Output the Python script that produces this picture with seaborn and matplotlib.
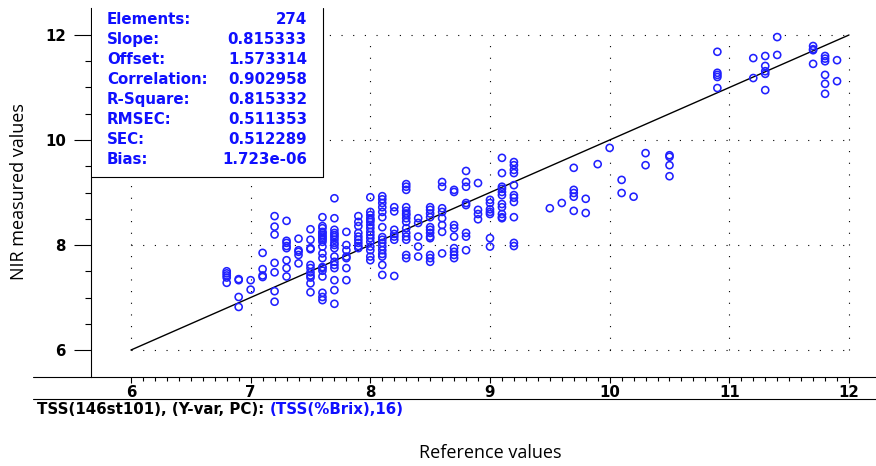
import matplotlib
matplotlib.use("Agg")
import matplotlib.pyplot as plt
import seaborn as sns
import pandas as pd
import numpy as np
from matplotlib.lines import Line2D
from matplotlib.patches import Rectangle
from matplotlib.ticker import FixedLocator

# ---------------- data ----------------
reference = (
    [6.8] * 5 + [6.9] * 4 + [7.0] * 2 + [7.1] * 4 + [7.2] * 7 + [7.3] * 8 + [7.4] * 5 +
    [7.5] * 11 + [7.6] * 20 + [7.7] * 17 + [7.8] * 7 + [7.9] * 9 + [8.0] * 16 + [8.1] * 16 +
    [8.2] * 7 + [8.3] * 15 + [8.4] * 5 + [8.5] * 12 + [8.6] * 8 + [8.7] * 9 + [8.8] * 8 +
    [8.9] * 4 + [9.0] * 7 + [9.1] * 11 + [9.2] * 11 + [9.5] * 1 + [9.6] * 1 + [9.7] * 5 +
    [9.8] * 2 + [9.9] * 1 + [10.0] * 1 + [10.1] * 2 + [10.2] * 1 + [10.3] * 2 + [10.5] * 4 +
    [10.9] * 5 + [11.2] * 2 + [11.3] * 5 + [11.4] * 2 + [11.7] * 4 + [11.8] * 6 + [11.9] * 2
)
measured = [
    7.50, 7.46, 7.42, 7.38, 7.28,
    7.35, 7.33, 7.01, 6.82,
    7.33, 7.15,
    7.85, 7.54, 7.42, 7.39,
    8.55, 8.35, 8.20, 7.66, 7.48, 7.12, 6.92,
    8.46, 8.08, 8.04, 7.98, 7.94, 7.71, 7.56, 7.40,
    8.12, 7.90, 7.87, 7.81, 7.65,
    8.30, 8.10, 7.94, 7.92, 7.62, 7.56, 7.48, 7.42, 7.38, 7.27, 7.10,
    8.53, 8.36, 8.32, 8.25, 8.23, 8.19, 8.16, 8.13, 8.10, 8.06, 7.97, 7.84, 7.75, 7.58, 7.56,
    7.51, 7.40, 7.09, 7.01, 6.95,
    8.89, 8.51, 8.29, 8.23, 8.19, 8.15, 8.10, 8.04, 8.00, 7.94, 7.78, 7.68, 7.62, 7.56, 7.33,
    7.14, 6.88,
    8.25, 8.00, 7.90, 7.78, 7.75, 7.56, 7.33,
    8.55, 8.44, 8.36, 8.23, 8.16, 8.10, 8.04, 7.98, 7.94,
    8.91, 8.63, 8.57, 8.51, 8.48, 8.44, 8.38, 8.32, 8.25, 8.19, 8.13, 8.06, 7.97, 7.90, 7.78, 7.71,
    8.93, 8.87, 8.80, 8.72, 8.63, 8.53, 8.34, 8.15, 8.10, 8.04, 7.97, 7.90, 7.83, 7.78, 7.62, 7.43,
    8.72, 8.64, 8.29, 8.21, 8.16, 8.10, 7.41,
    9.16, 9.11, 9.05, 8.72, 8.65, 8.60, 8.57, 8.51, 8.44, 8.32, 8.23, 8.16, 8.10, 7.81, 7.75,
    8.51, 8.42, 8.16, 7.97, 7.78,
    8.72, 8.67, 8.60, 8.53, 8.34, 8.29, 8.23, 8.16, 8.13, 7.81, 7.75, 7.68,
    9.20, 9.11, 8.70, 8.63, 8.51, 8.38, 8.25, 7.84,
    9.05, 9.01, 8.38, 8.32, 8.16, 7.94, 7.87, 7.81, 7.75,
    9.41, 9.20, 9.11, 8.80, 8.76, 8.23, 8.16, 7.90,
    9.18, 8.67, 8.59, 8.49,
    8.86, 8.80, 8.68, 8.63, 8.59, 8.13, 7.97,
    9.66, 9.37, 9.11, 9.07, 9.01, 8.95, 8.78, 8.72, 8.59, 8.53, 8.51,
    9.58, 9.52, 9.43, 9.37, 9.14, 8.95, 8.90, 8.82, 8.53, 8.04, 7.98,
    8.70,
    8.80,
    9.47, 9.05, 8.99, 8.92, 8.65,
    8.88, 8.61,
    9.54,
    9.85,
    9.24, 8.99,
    8.92,
    9.75, 9.52,
    9.71, 9.68, 9.52, 9.31,
    11.68, 11.28, 11.24, 11.20, 10.99,
    11.56, 11.18,
    11.60, 11.41, 11.31, 11.26, 10.95,
    11.96, 11.62,
    11.79, 11.73, 11.71, 11.45,
    11.60, 11.55, 11.50, 11.24, 11.07, 10.88,
    11.52, 11.12,
]
target_line = [6, 12]
x_ticks = [6, 7, 8, 9, 10, 11, 12]
y_ticks = [6, 8, 10, 12]
grid_x = [6, 7, 8, 9, 10, 11, 12]
grid_y = [6, 8, 10, 12]
stat_names = ["Elements:", "Slope:", "Offset:", "Correlation:", "R-Square:",
              "RMSEC:", "SEC:", "Bias:"]
stat_values = ["274", "0.815333", "1.573314", "0.902958", "0.815332",
               "0.511353", "0.512289", "1.723e-06"]
footer_black = "TSS(146st101), (Y-var, PC): "
footer_blue = "(TSS(%Brix),16)"
x_label = "Reference values"
y_label = "NIR measured values"

df = pd.DataFrame({"Reference": reference, "Measured": measured})

# ---------------- figure ----------------
sns.set_theme(style="white")
plt.rcParams["font.family"] = ["DejaVu Sans"]

W, H = 876, 466
fig = plt.figure(figsize=(W / 100, H / 100), dpi=100)


def fx(px):
    return px / W


def fy(py):
    return 1 - py / H


BLUE_TXT = "#1010ff"
BLUE_PT = "#2020ff"
BOLD = dict(family="DejaVu Sans", weight="bold", size=10.8)

ax = fig.add_axes([fx(91), fy(377), fx(876) - fx(91), fy(8) - fy(377)])
ax.set_xlim(5.666, 12.2256)
ax.set_ylim(5.486, 12.514)
ax.set_facecolor("white")

# dotted grid restricted to the data box
ax.vlines(grid_x, min(grid_y), max(grid_y), colors="black",
          linestyles=(0, (1, 9.5)), linewidth=0.8, zorder=1)
ax.hlines(grid_y, min(grid_x), max(grid_x), colors="black",
          linestyles=(0, (1, 9.5)), linewidth=0.8, zorder=1)

# target line
ax.plot(target_line, target_line, color="black", linewidth=1.0, zorder=2)

# points
sns.scatterplot(data=df, x="Reference", y="Measured", ax=ax, marker="o", s=26,
                facecolors="none", edgecolor=BLUE_PT, linewidth=1.15, zorder=3,
                legend=False)
ax.set_xlabel("")
ax.set_ylabel("")

# spines
for s in ["top", "right", "bottom"]:
    ax.spines[s].set_visible(False)
ax.spines["left"].set_color("black")
ax.spines["left"].set_linewidth(0.8)

# ticks
ax.set_xticks(x_ticks)
ax.set_xticklabels([str(t) for t in x_ticks])
ax.xaxis.set_minor_locator(FixedLocator(np.round(np.arange(6, 12.001, 0.1), 2)))
ax.set_yticks(y_ticks)
ax.set_yticklabels([str(t) for t in y_ticks])
ax.yaxis.set_minor_locator(FixedLocator(np.arange(6, 12.001, 0.5)))
ax.tick_params(axis="x", which="major", direction="out", length=4.5, width=0.8,
               color="black", pad=1.5, bottom=True)
ax.tick_params(axis="x", which="minor", direction="out", length=2.6, width=0.8,
               color="black", bottom=True)
ax.tick_params(axis="y", which="major", direction="out", length=12.2, width=0.8,
               color="black", pad=6, left=True)
ax.tick_params(axis="y", which="minor", direction="out", length=4.3, width=0.8,
               color="black", left=True)
for lab in ax.get_xticklabels() + ax.get_yticklabels():
    lab.set_fontweight("bold")
    lab.set_fontsize(10.8)
    lab.set_color("black")

# horizontal frame lines below the plot
fig.add_artist(Line2D([fx(33), fx(876)], [fy(377), fy(377)], color="black",
                      linewidth=0.8, transform=fig.transFigure))
fig.add_artist(Line2D([fx(33), fx(876)], [fy(399), fy(399)], color="black",
                      linewidth=0.8, transform=fig.transFigure))

# statistics box
fig.add_artist(Rectangle((fx(92), fy(177)), fx(323) - fx(92), fy(8) - fy(177),
                         facecolor="white", edgecolor="none",
                         transform=fig.transFigure, zorder=5))
fig.add_artist(Line2D([fx(91), fx(323)], [fy(177), fy(177)], color="black",
                      linewidth=0.8, transform=fig.transFigure, zorder=6))
fig.add_artist(Line2D([fx(323), fx(323)], [fy(8), fy(177)], color="black",
                      linewidth=0.8, transform=fig.transFigure, zorder=6))
for i, (nm, val) in enumerate(zip(stat_names, stat_values)):
    yy = fy(19 + 20.1 * i)
    fig.text(fx(107), yy, nm, color=BLUE_TXT, ha="left", va="center",
             zorder=7, **BOLD)
    fig.text(fx(307), yy, val, color=BLUE_TXT, ha="right", va="center",
             zorder=7, **BOLD)

# footer text: black part then blue part
t1 = fig.text(fx(37), fy(410), footer_black, color="black", ha="left",
              va="center", **BOLD)
fig.canvas.draw()
bb = t1.get_window_extent(renderer=fig.canvas.get_renderer())
fig.text(bb.x1 / W, fy(410), footer_blue, color=BLUE_TXT, ha="left",
         va="center", **BOLD)

# axis titles
fig.text(fx(490), fy(453), x_label, ha="center", va="center",
         family=["Open Sans", "DejaVu Sans"], size=13, color="black")
fig.text(fx(19), fy(192), y_label, ha="center", va="center", rotation=90,
         family=["Open Sans", "DejaVu Sans"], size=13, color="black")

fig.savefig("out.png", dpi=100, facecolor="white")
